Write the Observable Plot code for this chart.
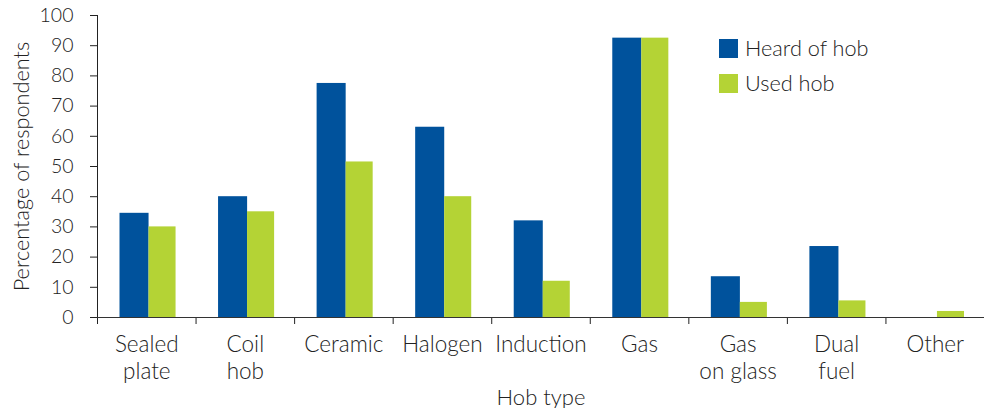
<!DOCTYPE html>
<html>
<head>
<meta charset="utf-8">
<script src="https://cdn.jsdelivr.net/npm/d3@7"></script>
<script src="https://cdn.jsdelivr.net/npm/@observablehq/plot@0.6"></script>
<style>
  body { margin: 0; background: #fff; }
  #chart { position: relative; width: 984px; height: 408px; font-family: Lato, "Open Sans", sans-serif; font-weight: 300; color: #222; }
  #chart svg { display: block; }
  .legend { position: absolute; left: 719px; top: 39px; }
  .legend-row { display: flex; align-items: center; height: 19px; margin-bottom: 16px; font-size: 21.7px; line-height: 19px; }
  .legend-swatch { width: 19px; height: 19px; margin-right: 7px; flex: none; }
</style>
</head>
<body>
<div id="chart"></div>
<script>
// Hob types surveyed (line breaks as they appear under the axis)
const hobTypes = ["Sealed\nplate", "Coil\nhob", "Ceramic", "Halogen", "Induction", "Gas", "Gas\non glass", "Dual\nfuel", "Other"];
// Percentage of respondents for each hob type
const heardOf = [34.5, 40, 77.5, 63, 32, 92.5, 13.5, 23.5, 0];
const usedHob = [30, 35, 51.5, 40, 12, 92.5, 5, 5.5, 2];
const seriesNames = ["Heard of hob", "Used hob"];
const seriesColors = ["#00529c", "#b4d335"];
const yTicks = [0, 10, 20, 30, 40, 50, 60, 70, 80, 90, 100];
const xTitle = "Hob type";
const yTitle = "Percentage of respondents";

const rows = hobTypes.flatMap((hob, i) => [
  {hob, series: seriesNames[0], value: heardOf[i]},
  {hob, series: seriesNames[1], value: usedHob[i]}
]);

const width = 984, marginLeft = 97, marginRight = 0;
const step = (width - marginLeft - marginRight) / hobTypes.length;

const chart = Plot.plot({
  width,
  height: 408,
  marginTop: 15,
  marginBottom: 91,
  marginLeft,
  marginRight,
  style: {fontFamily: "Lato, 'Open Sans', sans-serif", fontWeight: 300, fontSize: "19px", color: "#222", background: "#fff"},
  x: {domain: hobTypes, padding: 0, round: false},
  y: {domain: [0, 100]},
  color: {domain: seriesNames, range: seriesColors},
  marks: [
    // grouped bars: heard of (left) and used (right) within each hob band
    Plot.barY(rows.filter(d => d.series === seriesNames[0]), {x: "hob", y: "value", fill: "series", insetLeft: 22.5, insetRight: 47}),
    Plot.barY(rows.filter(d => d.series === seriesNames[1]), {x: "hob", y: "value", fill: "series", insetLeft: 51.5, insetRight: 20}),
    // y axis
    Plot.axisY({ticks: yTicks, tickSize: 7, tickPadding: 17, fontSize: 19.5, stroke: "#222", label: null}),
    Plot.frame({anchor: "left", stroke: "#222"}),
    Plot.text([yTitle], {text: d => d, frameAnchor: "left", textAnchor: "middle", lineAnchor: "middle", rotate: -90, dx: -75, fontSize: 21.7, fill: "#222"}),
    // x axis: labels centred on each band, ticks on band boundaries
    Plot.axisX({tickSize: 0, tickPadding: 15, fontSize: 22.5, lineHeight: 1.2, label: null}),
    Plot.axisX({tickSize: 7, text: null, label: null, dx: -step / 2, stroke: "#222"}),
    Plot.text([xTitle], {text: d => d, frameAnchor: "bottom", dy: 87, fontSize: 22, fill: "#222"}),
    Plot.ruleY([0], {stroke: "#333"})
  ]
});

const root = document.getElementById("chart");
root.appendChild(chart);

// legend drawn inside the plot area
const legend = document.createElement("div");
legend.className = "legend";
seriesNames.forEach((name, i) => {
  const row = document.createElement("div");
  row.className = "legend-row";
  const sw = document.createElement("span");
  sw.className = "legend-swatch";
  sw.style.background = seriesColors[i];
  const label = document.createElement("span");
  label.textContent = name;
  row.appendChild(sw);
  row.appendChild(label);
  legend.appendChild(row);
});
root.appendChild(legend);
</script>
</body>
</html>
